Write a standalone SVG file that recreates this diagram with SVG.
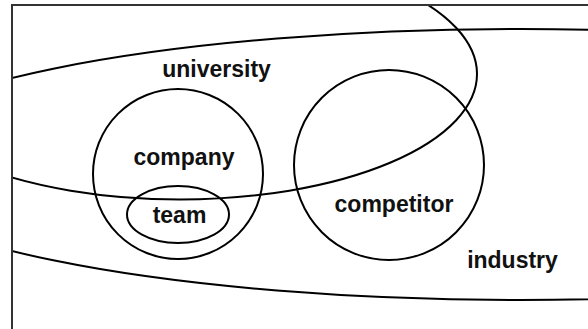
<svg xmlns="http://www.w3.org/2000/svg" width="588" height="329" viewBox="0 0 588 329">
<style>
.shape{fill:none;stroke:#000;stroke-width:2}
.lbl{font-family:"Liberation Sans",Arial,Helvetica,sans-serif;font-weight:bold;font-size:23px;fill:#111;text-anchor:middle}
</style>
<defs>
<clipPath id="frameClip"><rect x="12" y="5" width="600" height="340"/></clipPath>
</defs>
<rect x="0" y="0" width="588" height="329" fill="#fff"/>
<g clip-path="url(#frameClip)">
<g id="industry">
<ellipse class="shape" cx="520" cy="164.5" rx="660" ry="135.5"/>
<text class="lbl" x="512.5" y="268">industry</text>
</g>
<g id="university">
<ellipse class="shape" cx="180" cy="74" rx="297" ry="125.5"/>
<text class="lbl" x="216.5" y="77">university</text>
</g>
<g id="company">
<circle class="shape" cx="178" cy="174" r="85"/>
<text class="lbl" x="184" y="165">company</text>
</g>
<g id="team">
<ellipse class="shape" cx="178" cy="214.5" rx="51" ry="28.5"/>
<text class="lbl" x="179.5" y="223">team</text>
</g>
<g id="competitor">
<circle class="shape" cx="389" cy="165" r="95"/>
<text class="lbl" x="394" y="211.5">competitor</text>
</g>
</g>
<rect id="frame" x="12" y="5" width="600" height="340" fill="none" stroke="#333" stroke-width="2"/>
</svg>
